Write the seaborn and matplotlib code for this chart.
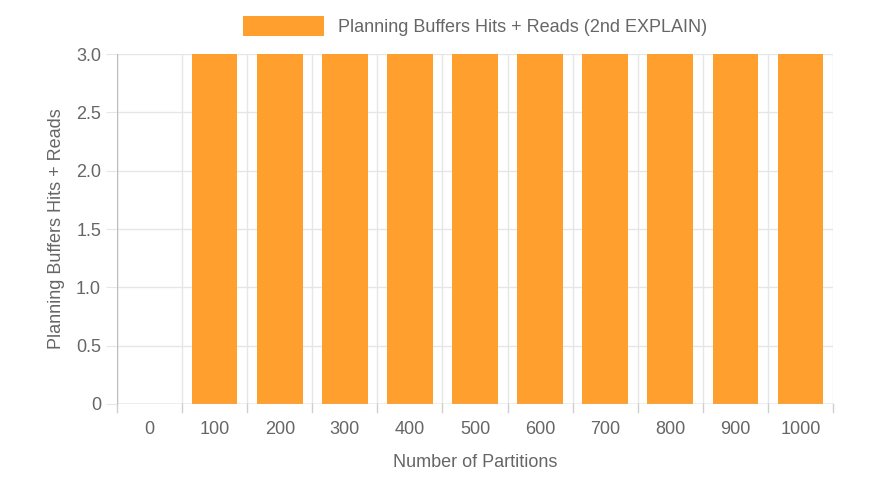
import matplotlib
matplotlib.use("Agg")
import matplotlib.pyplot as plt
import seaborn as sns
import pandas as pd

# data
partitions = ["0", "100", "200", "300", "400", "500", "600", "700", "800", "900", "1000"]
buffers = [0, 3, 3, 3, 3, 3, 3, 3, 3, 3, 3]
y_ticks = [0, 0.5, 1.0, 1.5, 2.0, 2.5, 3.0]
y_labels = ["0", "0.5", "1.0", "1.5", "2.0", "2.5", "3.0"]

df = pd.DataFrame({"Partitions": partitions, "Buffers": buffers})

plt.rcParams["font.family"] = "Liberation Sans"
fig = plt.figure(figsize=(8.82, 4.92), dpi=100)
ax = fig.add_axes([0.1327, 0.1789, 0.8117, 0.7113])

sns.barplot(data=df, x="Partitions", y="Buffers", color="#FF9F2E", saturation=1,
            width=0.7, ax=ax, label="Planning Buffers Hits + Reads (2nd EXPLAIN)", zorder=3)

ax.set_ylim(0, 3.0)
ax.set_xlim(-0.5, len(partitions) - 0.5)
ax.set_yticks(y_ticks)
ax.set_yticklabels(y_labels)

# grid lines between categories (Chart.js style)
for i in range(len(partitions) + 1):
    ax.axvline(i - 0.5, color="#e6e6e6", lw=1, zorder=1)
    ax.plot([i - 0.5, i - 0.5], [0, -0.07], color="#cfcfcf", lw=1, clip_on=False)
for t in y_ticks:
    ax.axhline(t, color="#e6e6e6", lw=1, zorder=1)

for s in ax.spines.values():
    s.set_visible(False)
ax.axhline(0, color="#bdbdbd", lw=1, zorder=4)
ax.axvline(-0.5, color="#bdbdbd", lw=1, zorder=4)

ax.tick_params(axis="x", length=0, pad=12, labelsize=13, colors="#666666")
ax.tick_params(axis="y", length=8, color="#e6e6e6", labelsize=13, colors="#666666")
ax.set_xlabel("Number of Partitions", fontsize=13, color="#666666", labelpad=12)
ax.set_ylabel("Planning Buffers Hits + Reads", fontsize=13, color="#666666", labelpad=8)

ax.legend(loc="lower center", bbox_to_anchor=(0.5, 1.005), frameon=False, fontsize=13,
          handlelength=4.5, handleheight=1.3, labelcolor="#666666")

fig.savefig("out.png", dpi=100)
